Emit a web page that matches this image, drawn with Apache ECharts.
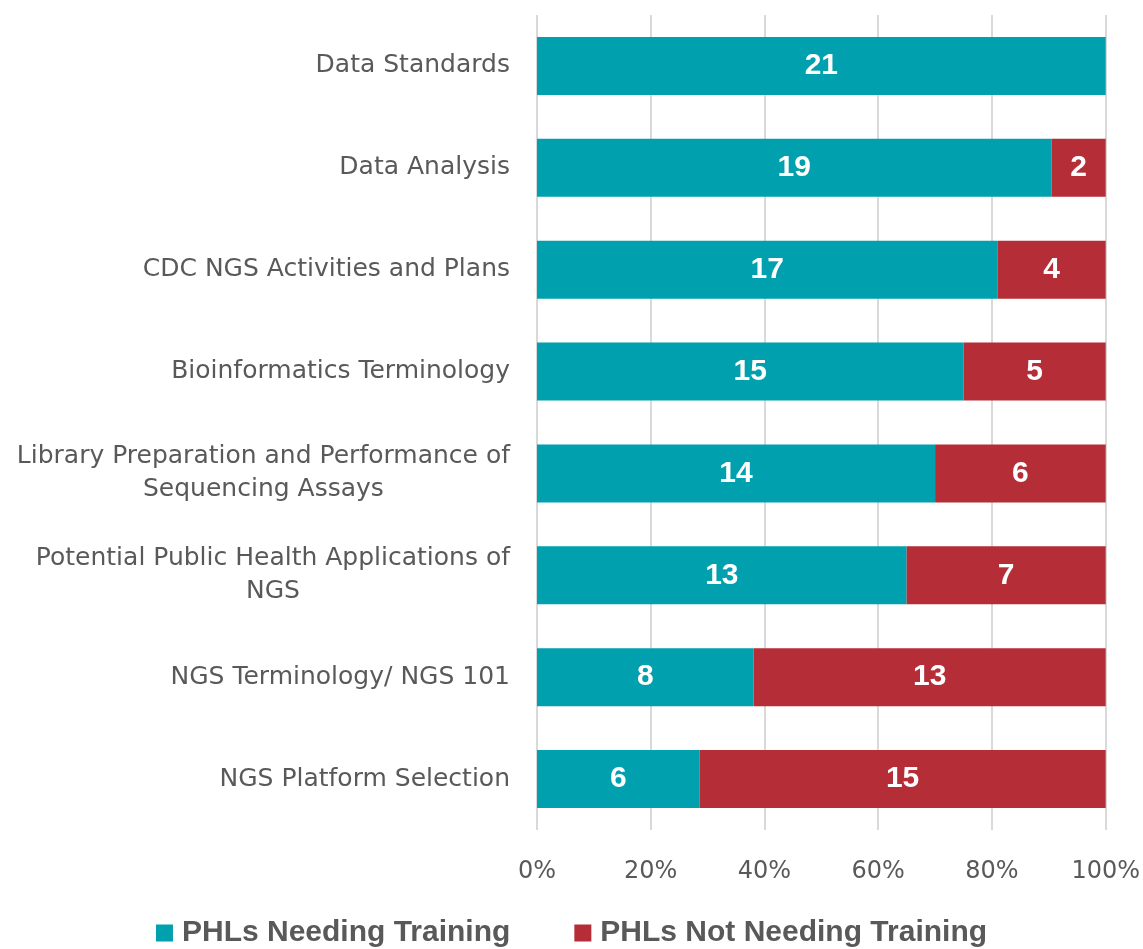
<!DOCTYPE html>
<html>
<head>
<meta charset="utf-8">
<script src="https://cdn.jsdelivr.net/npm/echarts@6/dist/echarts.min.js"></script>
<style>
  html, body { margin: 0; padding: 0; background: #fff; }
  #chart { width: 1143px; height: 949px; }
</style>
</head>
<body>
<div id="chart"></div>
<script>
// categories, bottom to top (ECharts category y axis starts at the bottom)
const categories = [
  'NGS Platform Selection',
  'NGS Terminology/ NGS 101',
  'Potential Public Health Applications of\nNGS',
  'Library Preparation and Performance of\nSequencing Assays',
  'Bioinformatics Terminology',
  'CDC NGS Activities and Plans',
  'Data Analysis',
  'Data Standards'
]
const needing = [6, 8, 13, 14, 15, 17, 19, 21]
const notNeeding = [15, 13, 7, 6, 5, 4, 2, 0]
const xTicks = ['0%', '20%', '40%', '60%', '80%', '100%']

const teal = '#00A0AF'
const red = '#B52D36'

// share of each row, keeping the count for the label
const toPct = (arr) => arr.map((v, i) => ({
  value: v / (needing[i] + notNeeding[i]) * 100,
  count: v
}))

const chart = echarts.init(document.getElementById('chart'))

const labelStyle = {
  show: true,
  position: 'inside',
  color: '#fff',
  fontFamily: 'Liberation Sans, Arial, sans-serif',
  fontWeight: 'bold',
  fontSize: 30,
  formatter: (p) => p.data.count ? String(p.data.count) : ''
}

chart.setOption({
  animation: false,
  grid: { left: 537, right: 36, top: 15, bottom: 119 },
  legend: {
    top: 913,
    left: 'center',
    itemWidth: 17,
    itemHeight: 17,
    itemGap: 64,
    icon: 'rect',
    textStyle: {
      fontFamily: 'Liberation Sans Narrow, Arial Narrow, Liberation Sans, sans-serif',
      fontWeight: 'bold',
      fontSize: 30,
      color: '#595959',
      padding: [0, 0, 0, 4]
    },
    data: ['PHLs Needing Training', 'PHLs Not Needing Training']
  },
  xAxis: {
    type: 'value',
    min: 0,
    max: 100,
    interval: 20,
    axisLine: { show: false },
    axisTick: { show: false },
    splitLine: { lineStyle: { color: '#D9D9D9', width: 2 } },
    axisLabel: {
      margin: 30,
      fontSize: 24,
      color: '#595959',
      fontFamily: 'DejaVu Sans, sans-serif',
      formatter: (v) => xTicks[Math.round(v / 20)]
    }
  },
  yAxis: {
    type: 'category',
    data: categories,
    axisLine: { show: false },
    axisTick: { show: false },
    axisLabel: {
      margin: 27,
      align: 'right',
      // centre each line of a wrapped label inside its block
      formatter: (v) => v.split('\n').map((s) => '{c|' + s + '}').join('\n'),
      rich: {
        c: {
          align: 'center',
          fontSize: 25,
          lineHeight: 33,
          color: '#595959',
          fontFamily: 'DejaVu Sans, sans-serif'
        }
      }
    }
  },
  series: [
    {
      name: 'PHLs Needing Training',
      type: 'bar',
      stack: 'total',
      barWidth: 58,
      itemStyle: { color: teal },
      label: labelStyle,
      data: toPct(needing)
    },
    {
      name: 'PHLs Not Needing Training',
      type: 'bar',
      stack: 'total',
      barWidth: 58,
      itemStyle: { color: red },
      label: labelStyle,
      data: toPct(notNeeding)
    }
  ]
})
</script>
</body>
</html>
